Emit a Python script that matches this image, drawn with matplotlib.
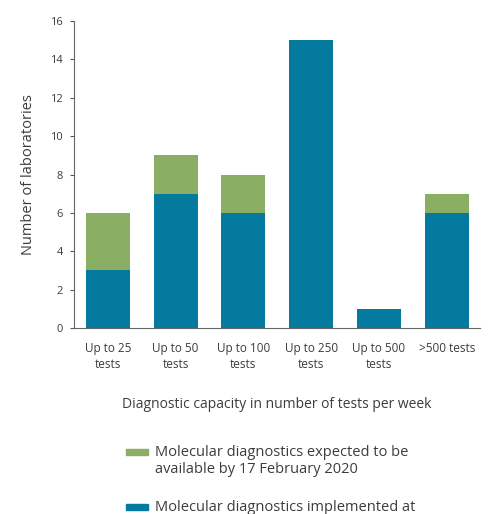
import matplotlib
matplotlib.use("Agg")
import matplotlib.pyplot as plt
from matplotlib.patches import Rectangle

categories = ["Up to 25\ntests", "Up to 50\ntests", "Up to 100\ntests",
              "Up to 250\ntests", "Up to 500\ntests", ">500 tests"]
implemented = [3, 7, 6, 15, 1, 6]
expected = [3, 2, 2, 0, 0, 1]
yticks = [0, 2, 4, 6, 8, 10, 12, 14, 16]
legend_labels = ["Molecular diagnostics expected to be\navailable by 17 February 2020",
                 "Molecular diagnostics implemented at"]

blue = "#037a9e"
green = "#8aae62"
txt = "#3c3c3c"

plt.rcParams['font.family'] = ['Open Sans', 'DejaVu Sans']

W, H = 499, 514
fig = plt.figure(figsize=(W / 100, H / 100), dpi=100)
ax = fig.add_axes([0.148, 0.362, 0.814, 0.597])
x = list(range(len(categories)))
ax.bar(x, implemented, width=0.65, color=blue)
ax.bar(x, expected, width=0.65, bottom=implemented, color=green)
ax.set_xlim(-0.5, 5.49)
ax.set_ylim(0, 16)
ax.set_yticks(yticks)
ax.set_xticks(x)
ax.set_xticklabels(categories, fontsize=8.5, color=txt, linespacing=1.3)
ax.tick_params(axis='x', length=0, pad=10)
ax.tick_params(axis='y', labelsize=8, colors='#555555', length=3, pad=5, labelcolor=txt)
for s in ['top', 'right']:
    ax.spines[s].set_visible(False)
for s in ['left', 'bottom']:
    ax.spines[s].set_color('#666666')
    ax.spines[s].set_linewidth(0.8)
ax.set_ylabel("Number of laboratories", fontsize=10.5, color=txt, labelpad=10)
fig.text(0.555, 1 - 404 / H, "Diagnostic capacity in number of tests per week",
         ha='center', va='center', fontsize=10, color=txt)

# legend (manual layout)
keys = [(green, 452, legend_labels[0]), (blue, 507, legend_labels[1])]
for col, yc, lab in keys:
    fig.add_artist(Rectangle((126 / W, 1 - (yc + 3) / H), 22 / W, 6 / H,
                             transform=fig.transFigure, color=col))
    fig.text(155 / W, 1 - (yc - 7) / H, lab, ha='left', va='top',
             fontsize=10.5, color=txt, linespacing=1.15)

fig.savefig("out.png", dpi=100)
